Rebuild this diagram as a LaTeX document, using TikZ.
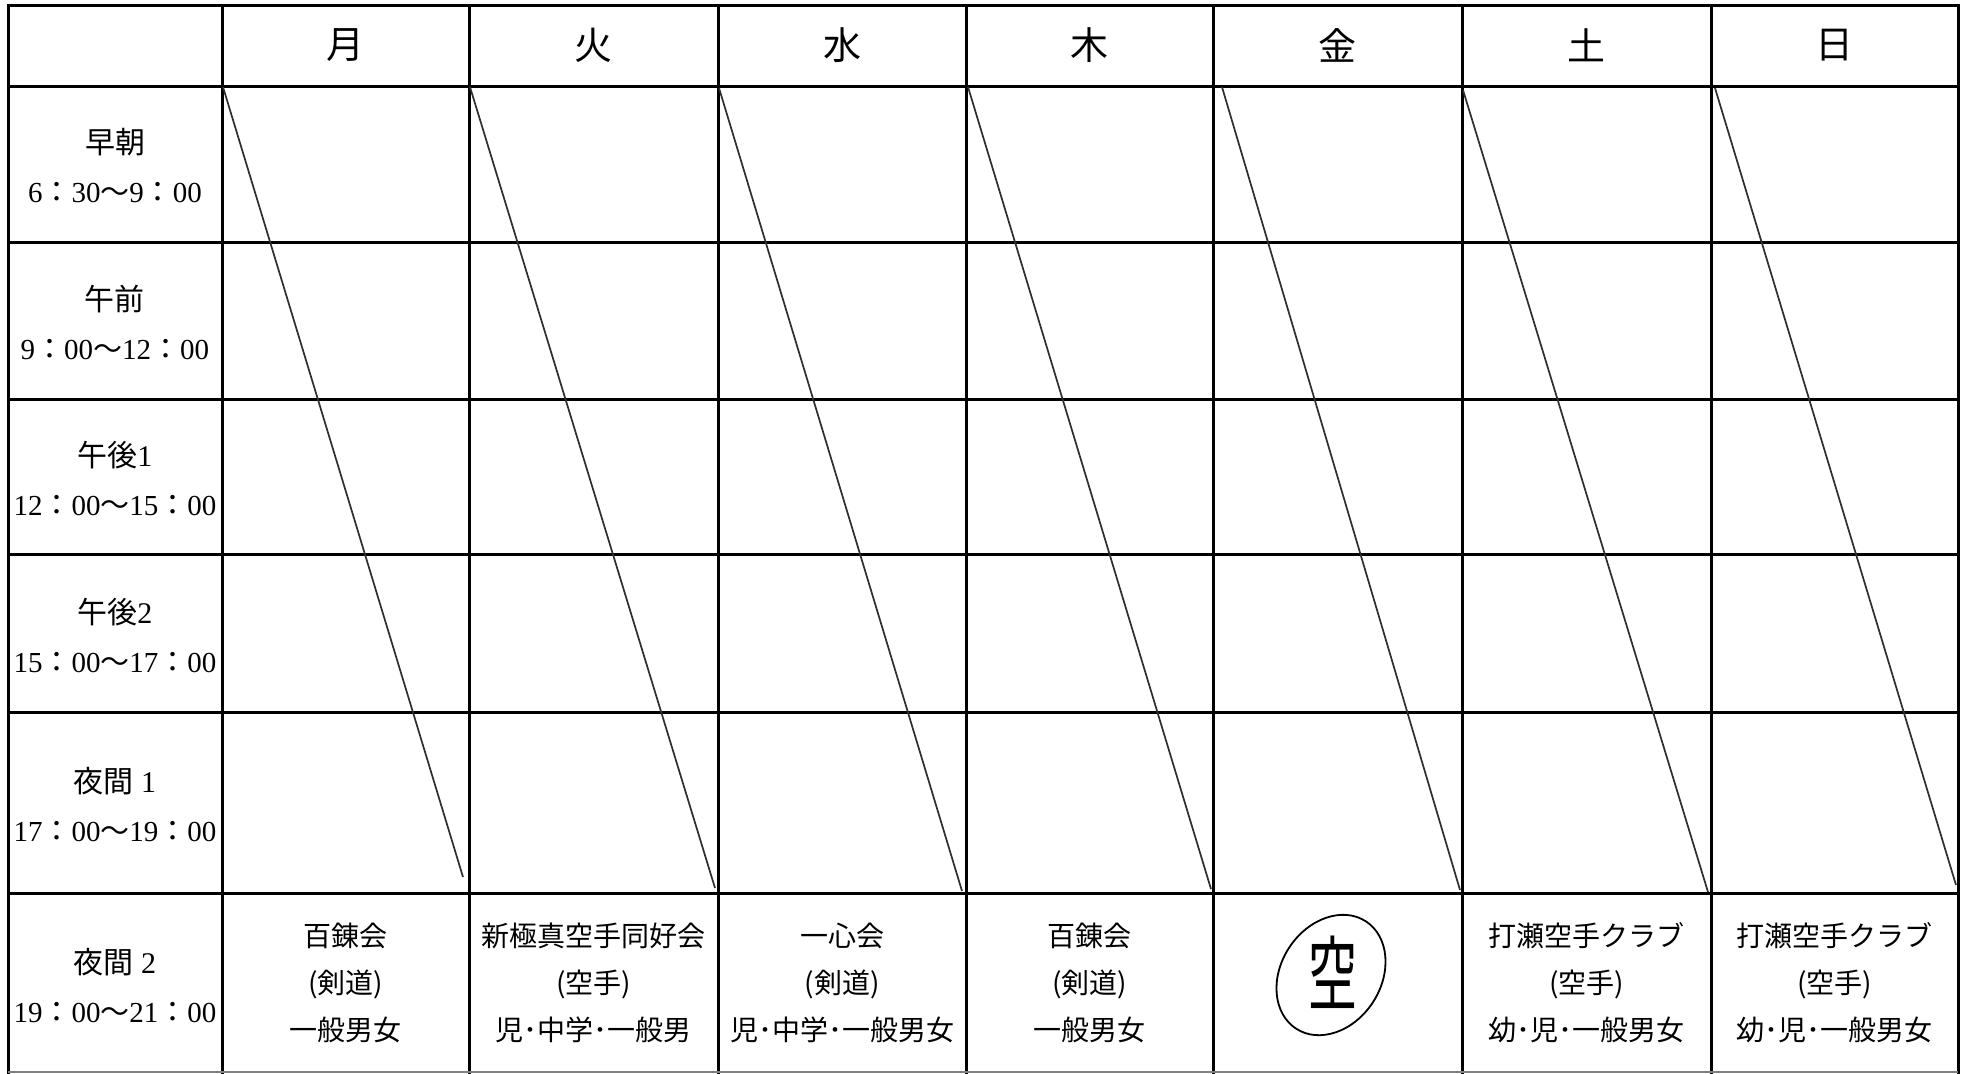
\documentclass[tikz,border=0pt]{standalone}
\usepackage{fontspec}
\setmainfont{Liberation Serif}
\newfontfamily\jp{Noto Sans CJK JP}
\newcommand{\jcolon}{{\jp ：}}
\newcommand{\jtilde}{{\jp ～}}
\begin{document}
\begin{tikzpicture}[x=0.5pt,y=-0.5pt,
  gridline/.style={line width=1.5pt, line cap=rect},
  diag/.style={line width=0.85pt, black!82},
  dayhead/.style={font=\jp\fontsize{19}{22}\selectfont, inner sep=0pt},
  slot/.style={align=center, inner sep=0pt, font=\fontsize{14.5}{24.5}\selectfont},
  club/.style={align=center, inner sep=0pt, font=\jp\fontsize{14}{23.5}\selectfont},
]
\useasboundingbox (0,0) rectangle (1967,1073);
\fill[white] (0,0) rectangle (1967,1073);

% grid
\foreach \x in {8,222,469,718,966,1213,1462,1711,1958}
  \draw[gridline] (\x,5) -- (\x,1073);
\foreach \y in {5,86,242,399,554,712,893}
  \draw[gridline] (8,\y) -- (1958,\y);
\draw[line width=1pt, black!50] (8,1072) -- (1958,1072);

% diagonal strike-through lines
\draw[diag] (223,87) -- (463,877);
\draw[diag] (470,87) -- (715,888);
\draw[diag] (719,88) -- (962,891);
\draw[diag] (968,87) -- (1211,889);
\draw[diag] (1222,87) -- (1460,890);
\draw[diag] (1463,90) -- (1708,892);
\draw[diag] (1715,88) -- (1956,885);

% header days
\node[dayhead] (d1) at (345.5,45.5) {月};
\node[dayhead] (d2) at (593.5,45.5) {火};
\node[dayhead] (d3) at (842,45.5) {水};
\node[dayhead] (d4) at (1089.5,45.5) {木};
\node[dayhead] (d5) at (1337.5,45.5) {金};
\node[dayhead] (d6) at (1586.5,45.5) {土};
\node[dayhead] (d7) at (1834.5,45.5) {日};

% time slot labels
\node[slot] (r1) at (115,166) {{\jp\fontsize{15}{24.5}\selectfont 早朝}\\6\jcolon30\jtilde9\jcolon00};
\node[slot] (r2) at (115,322) {{\jp\fontsize{15}{24.5}\selectfont 午前}\\9\jcolon00\jtilde12\jcolon00};
\node[slot] (r3) at (115,478) {{\jp\fontsize{15}{24.5}\selectfont 午後}{\fontsize{15}{24.5}\selectfont 1}\\12\jcolon00\jtilde15\jcolon00};
\node[slot] (r4) at (115,635) {{\jp\fontsize{15}{24.5}\selectfont 午後}{\fontsize{15}{24.5}\selectfont 2}\\15\jcolon00\jtilde17\jcolon00};
\node[slot] (r5) at (115,805) {{\jp\fontsize{15}{24.5}\selectfont 夜間}{\fontsize{15}{24.5}\selectfont\ 1}\\17\jcolon00\jtilde19\jcolon00};
\node[slot] (r6) at (115,986) {{\jp\fontsize{15}{24.5}\selectfont 夜間}{\fontsize{15}{24.5}\selectfont\ 2}\\19\jcolon00\jtilde21\jcolon00};

% clubs (night 2)
\node[club] (c1) at (345.5,983) {百錬会\\(剣道)\\一般男女};
\node[club] (c2) at (593.5,983) {新極真空手同好会\\(空手)\\児･中学･一般男};
\node[club] (c3) at (842,983) {一心会\\(剣道)\\児･中学･一般男女};
\node[club] (c4) at (1089.5,983) {百錬会\\(剣道)\\一般男女};
\node[club] (c6) at (1586.5,983) {打瀬空手クラブ\\(空手)\\幼･児･一般男女};
\node[club] (c7) at (1834.5,983) {打瀬空手クラブ\\(空手)\\幼･児･一般男女};

% handwritten circled mark on Friday
\draw[line width=0.9pt, rotate around={57:(1331,975)}] (1331,975) ellipse [x radius=32pt, y radius=25pt];
\node[inner sep=0pt, font=\jp\fontsize{34}{34}\selectfont, xscale=0.72, yscale=1.2] (c5) at (1333,972) {空};
\end{tikzpicture}
\end{document}
